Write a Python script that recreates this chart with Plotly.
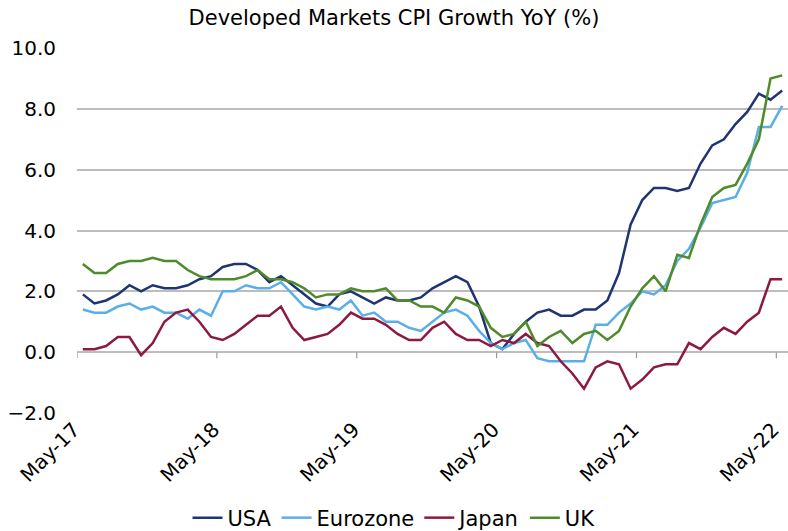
import plotly.graph_objects as go

months = ["May-17","Jun-17","Jul-17","Aug-17","Sep-17","Oct-17","Nov-17","Dec-17",
          "Jan-18","Feb-18","Mar-18","Apr-18","May-18","Jun-18","Jul-18","Aug-18",
          "Sep-18","Oct-18","Nov-18","Dec-18","Jan-19","Feb-19","Mar-19","Apr-19",
          "May-19","Jun-19","Jul-19","Aug-19","Sep-19","Oct-19","Nov-19","Dec-19",
          "Jan-20","Feb-20","Mar-20","Apr-20","May-20","Jun-20","Jul-20","Aug-20",
          "Sep-20","Oct-20","Nov-20","Dec-20","Jan-21","Feb-21","Mar-21","Apr-21",
          "May-21","Jun-21","Jul-21","Aug-21","Sep-21","Oct-21","Nov-21","Dec-21",
          "Jan-22","Feb-22","Mar-22","Apr-22","May-22"]

usa = [1.9,1.6,1.7,1.9,2.2,2.0,2.2,2.1,2.1,2.2,2.4,
       2.5,2.8,2.9,2.9,2.7,2.3,2.5,2.2,1.9,1.6,
       1.5,1.9,2.0,1.8,1.6,1.8,1.7,1.7,1.8,2.1,
       2.3,2.5,2.3,1.5,0.3,0.1,0.6,1.0,1.3,1.4,
       1.2,1.2,1.4,1.4,1.7,2.6,4.2,5.0,5.4,5.4,
       5.3,5.4,6.2,6.8,7.0,7.5,7.9,8.5,8.3,8.6]

eurozone = [1.4,1.3,1.3,1.5,1.6,1.4,1.5,1.3,1.3,1.1,1.4,
            1.2,2.0,2.0,2.2,2.1,2.1,2.3,1.9,1.5,1.4,
            1.5,1.4,1.7,1.2,1.3,1.0,1.0,0.8,0.7,1.0,
            1.3,1.4,1.2,0.7,0.3,0.1,0.3,0.4,-0.2,-0.3,
            -0.3,-0.3,-0.3,0.9,0.9,1.3,1.6,2.0,1.9,2.2,
            3.0,3.4,4.1,4.9,5.0,5.1,5.9,7.4,7.4,8.1]

japan = [0.1,0.1,0.2,0.5,0.5,-0.1,0.3,1.0,1.3,1.4,1.0,
         0.5,0.4,0.6,0.9,1.2,1.2,1.5,0.8,0.4,0.5,
         0.6,0.9,1.3,1.1,1.1,0.9,0.6,0.4,0.4,0.8,
         1.0,0.6,0.4,0.4,0.2,0.4,0.3,0.6,0.3,0.2,
         -0.3,-0.7,-1.2,-0.5,-0.3,-0.4,-1.2,-0.9,-0.5,-0.4,
         -0.4,0.3,0.1,0.5,0.8,0.6,1.0,1.3,2.4,2.4]

uk = [2.9,2.6,2.6,2.9,3.0,3.0,3.1,3.0,3.0,2.7,2.5,
      2.4,2.4,2.4,2.5,2.7,2.4,2.4,2.3,2.1,1.8,
      1.9,1.9,2.1,2.0,2.0,2.1,1.7,1.7,1.5,1.5,
      1.3,1.8,1.7,1.5,0.8,0.5,0.6,1.0,0.2,0.5,
      0.7,0.3,0.6,0.7,0.4,0.7,1.5,2.1,2.5,2.0,
      3.2,3.1,4.2,5.1,5.4,5.5,6.2,7.0,9.0,9.1]

tick_labels = ["May-17","May-18","May-19","May-20","May-21","May-22"]
y_ticks = [-2, 0, 2, 4, 6, 8, 10]

series = [("USA", usa, "#1f3572"),
          ("Eurozone", eurozone, "#5aafe6"),
          ("Japan", japan, "#8c1a40"),
          ("UK", uk, "#4f8a2b")]

FONT = "DejaVu Sans"
FS = 20

fig = go.Figure()
for name, vals, col in series:
    fig.add_trace(go.Scatter(x=months, y=vals, name=name, mode="lines",
                             line=dict(color=col, width=2.5)))

# small tick marks hanging from the zero line at category boundaries
shapes = []
for lab in tick_labels:
    pos = months.index(lab) - 0.5
    shapes.append(dict(type="line", xref="x", yref="y", x0=pos, x1=pos,
                       ysizemode="pixel", yanchor=0, y0=0, y1=-6,
                       line=dict(color="#9a9a9a", width=1.2)))

fig.update_layout(
    width=788, height=531,
    margin=dict(l=77, r=0, t=48, b=118, autoexpand=False),
    paper_bgcolor="white", plot_bgcolor="white",
    font=dict(family=FONT, size=FS, color="#000000"),
    title=dict(text="Developed Markets CPI Growth YoY (%)",
               x=0.5, xref="container", xanchor="center",
               y=1 - 18/531, yref="container", yanchor="middle",
               font=dict(family=FONT, size=21, color="#000000")),
    showlegend=True,
    legend=dict(orientation="h", xref="container", x=0.5, xanchor="center",
                yref="container", y=1 - 518/531, yanchor="middle",
                font=dict(family=FONT, size=21), itemwidth=30,
                tracegroupgap=0, bgcolor="rgba(0,0,0,0)"),
    shapes=shapes,
)

fig.update_xaxes(type="category", range=[-0.5, len(months) - 0.5],
                 tickmode="array", tickvals=tick_labels, ticktext=tick_labels,
                 tickangle=-45, showgrid=False, showline=False, zeroline=False,
                 ticks="", automargin=False, ticklabelshift=-9,
                 tickfont=dict(family=FONT, size=FS))

fig.update_yaxes(range=[-2, 10], tickmode="array", tickvals=y_ticks,
                 tickformat=".1f", showgrid=True, gridcolor="#bdbdbd", gridwidth=1.5,
                 zeroline=True, zerolinecolor="#bdbdbd", zerolinewidth=1.5,
                 showline=False, ticks="", ticklabelstandoff=20, automargin=False,
                 tickfont=dict(family=FONT, size=FS))

fig.write_html("out.html", config={"displayModeBar": False},
               post_script="document.body.style.margin='0';document.body.style.overflow='hidden';")
